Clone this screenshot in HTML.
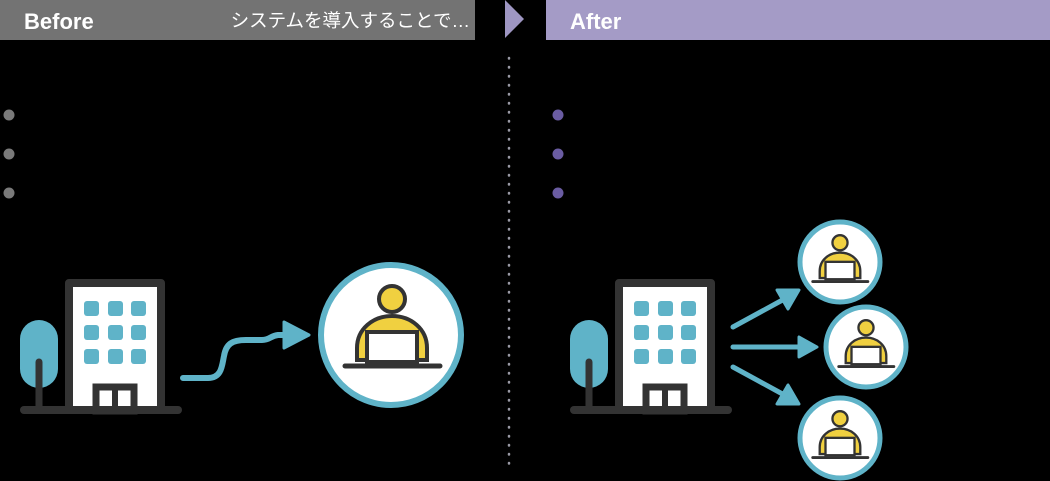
<!DOCTYPE html>
<html><head><meta charset="utf-8"><style>
html,body{margin:0;padding:0;background:#000;width:1050px;height:481px;overflow:hidden}
svg{display:block}
</style></head><body>
<svg width="1050" height="481" viewBox="0 0 1050 481" xmlns="http://www.w3.org/2000/svg">
<defs>
<g id="person">
  <path d="M-35,26 L-35,14 C-35,-5 -19,-18 0,-18 C19,-18 35,-5 35,14 L35,26 Z" fill="#f0d040" stroke="#333" stroke-width="4"/>
  <circle cx="0" cy="-35" r="13" fill="#f0d040" stroke="#333" stroke-width="4"/>
  <rect x="-25" y="-2" width="50" height="30" fill="#fff" stroke="#333" stroke-width="4"/>
  <line x1="-47" y1="32" x2="48" y2="32" stroke="#333" stroke-width="5" stroke-linecap="round"/>
</g>
<g id="building">
  <rect x="20" y="320" width="38" height="68" rx="19" fill="#5fb3c8"/>
  <line x1="39" y1="362" x2="39" y2="408" stroke="#333" stroke-width="7" stroke-linecap="round"/>
  <rect x="69" y="283" width="92" height="127" fill="#fff" stroke="#333" stroke-width="8" stroke-linejoin="round"/>
  <g fill="#5fb3c8">
    <rect x="84" y="301" width="15" height="15" rx="3"/><rect x="108" y="301" width="15" height="15" rx="3"/><rect x="131" y="301" width="15" height="15" rx="3"/>
    <rect x="84" y="325" width="15" height="15" rx="3"/><rect x="108" y="325" width="15" height="15" rx="3"/><rect x="131" y="325" width="15" height="15" rx="3"/>
    <rect x="84" y="349" width="15" height="15" rx="3"/><rect x="108" y="349" width="15" height="15" rx="3"/><rect x="131" y="349" width="15" height="15" rx="3"/>
  </g>
  <rect x="96" y="387" width="38" height="24" fill="#fff" stroke="#333" stroke-width="7"/>
  <line x1="115" y1="390" x2="115" y2="410" stroke="#333" stroke-width="6"/>
  <line x1="24" y1="410" x2="178" y2="410" stroke="#333" stroke-width="8" stroke-linecap="round"/>
</g>
</defs>

<rect x="0" y="0" width="475" height="40" fill="#737373"/>
<text x="24" y="29" font-family="Liberation Sans, sans-serif" font-weight="bold" font-size="22" fill="#fff">Before</text>
<text x="470" y="27" text-anchor="end" font-family="Liberation Sans, 'Noto Sans CJK JP', sans-serif" font-size="18.5" fill="#fff">システムを導入することで…</text>
<polygon points="505,0 524,19 505,38" fill="#9e96c2"/>
<rect x="546" y="0" width="504" height="40" fill="#a49bc6"/>
<text x="570" y="29" font-family="Liberation Sans, sans-serif" font-weight="bold" font-size="22" fill="#fff">After</text>

<line x1="509" y1="58" x2="509" y2="466" stroke="#9a9aa6" stroke-width="2.5" stroke-dasharray="0.5,8.5" stroke-linecap="round"/>

<g fill="#7a7a7a"><circle cx="9" cy="115" r="5.5"/><circle cx="9" cy="154" r="5.5"/><circle cx="9" cy="193" r="5.5"/></g>
<g fill="#6a5ca2"><circle cx="558" cy="115" r="5.5"/><circle cx="558" cy="154" r="5.5"/><circle cx="558" cy="193" r="5.5"/></g>

<use href="#building"/>
<path d="M183,378 L208,378 C222,378 222,365 224,356 C226,344 232,340 246,340 L262,340 C270,340 270,336 278,335 L290,335" fill="none" stroke="#5fb3c8" stroke-width="6" stroke-linecap="round"/>
<polygon points="284,322 309,335 284,348" fill="#5fb3c8" stroke="#5fb3c8" stroke-width="3" stroke-linejoin="round"/>
<circle cx="391" cy="335" r="70" fill="#fff" stroke="#5fb3c8" stroke-width="6"/>
<use href="#person" transform="translate(392,334)"/>

<use href="#building" transform="translate(550,0)"/>
<g stroke="#5fb3c8" stroke-width="5" stroke-linecap="round">
  <line x1="733" y1="327" x2="788" y2="297"/>
  <line x1="733" y1="347" x2="806" y2="347"/>
  <line x1="733" y1="367" x2="788" y2="397"/>
</g>
<g fill="#5fb3c8" stroke="#5fb3c8" stroke-width="3" stroke-linejoin="round">
  <polygon points="799,290 777,290 788,309"/>
  <polygon points="817,347 799,337 799,357"/>
  <polygon points="799,404 788,385 777,404"/>
</g>
<circle cx="840" cy="262" r="40" fill="#fff" stroke="#5fb3c8" stroke-width="5"/>
<use href="#person" transform="translate(840,263) scale(0.58)"/>
<circle cx="866" cy="347" r="40" fill="#fff" stroke="#5fb3c8" stroke-width="5"/>
<use href="#person" transform="translate(866,348) scale(0.58)"/>
<circle cx="840" cy="438" r="40" fill="#fff" stroke="#5fb3c8" stroke-width="5"/>
<use href="#person" transform="translate(840,439) scale(0.58)"/>
</svg>
</body></html>
